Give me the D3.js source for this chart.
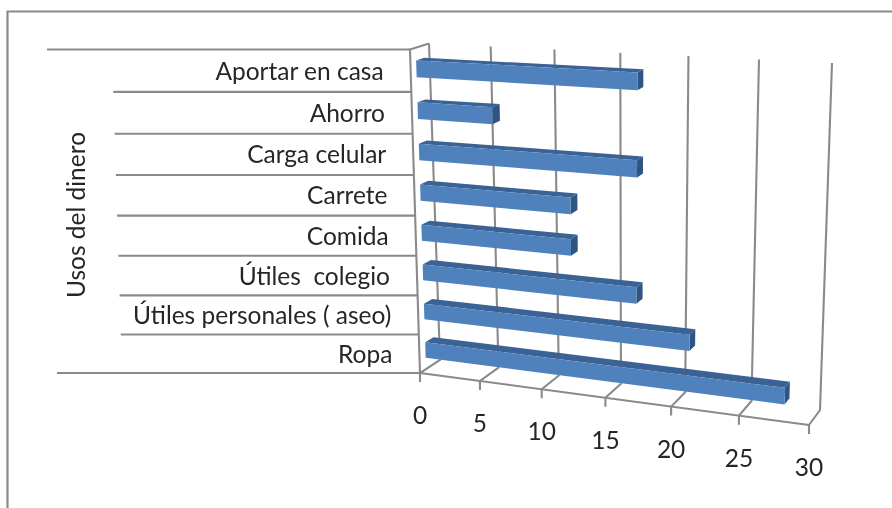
<!DOCTYPE html>
<html>
<head>
<meta charset="utf-8">
<title>Usos del dinero</title>
<script src="https://cdn.jsdelivr.net/npm/d3@7"></script>
<style>
html,body{margin:0;padding:0;background:#fff;overflow:hidden}
svg{display:block;filter:blur(0.4px)}
text{font-family:Lato,"Open Sans",sans-serif;fill:#262626}
</style>
</head>
<body>
<svg id="chart" width="892" height="508"></svg>
<script>
// Data, listed top to bottom as in the chart
const categories = ["Aportar en casa","Ahorro","Carga celular","Carrete","Comida","Útiles  colegio","Útiles personales ( aseo)","Ropa"];
const values = [17,6,17,12,12,17,21,28];
const valueTicks = [0,5,10,15,20,25,30];
const axisTitle = "Usos del dinero";

// Perspective planes of the chart box (corners: u0v0, u1v0, u1v1, u0v1)
const frontPlane = [[420,373],[809,425],[822,71],[410,49.5]];
const backPlane  = [[440,360],[820,410],[832,63],[429,43.5]];

function homography(q){
  const [[x0,y0],[x1,y1],[x2,y2],[x3,y3]] = q;
  const dx1=x1-x2, dx2=x3-x2, sx=x0-x1+x2-x3;
  const dy1=y1-y2, dy2=y3-y2, sy=y0-y1+y2-y3;
  const den=dx1*dy2-dx2*dy1;
  const g=(sx*dy2-dx2*sy)/den, h=(dx1*sy-sx*dy1)/den;
  const a=x1-x0+g*x1, b=x3-x0+h*x3, d=y1-y0+g*y1, e=y3-y0+h*y3;
  return (u,v)=>{const w=g*u+h*v+1; return [(a*u+b*v+x0)/w,(d*u+e*v+y0)/w];};
}
const front=homography(frontPlane), back=homography(backPlane);
// depth 0 = front plane, depth 1 = back plane
function project(u,v,depth){
  const p=front(u,v), q=back(u,v);
  return [p[0]+(q[0]-p[0])*depth, p[1]+(q[1]-p[1])*depth];
}

const xScale=d3.scaleLinear().domain([0,30]).range([0,1]);
const barPad=0.6;
const yBand=d3.scaleBand().domain(categories).range([1,0]).paddingInner(barPad).paddingOuter(barPad/2);
const yStep=d3.scaleBand().domain(categories).range([1,0]);

const svg=d3.select("#chart");
const gray="#8a8a8a";
const path=pts=>d3.line()(pts);

// Outer chart border (runs off the picture)
svg.append("path").attr("d","M7.5,508V11.5H892").attr("fill","none").attr("stroke",gray).attr("stroke-width",2.2);

const axes=svg.append("g").attr("fill","none").attr("stroke",gray).attr("stroke-width",2.1);

// Back-wall gridlines and floor lines
valueTicks.forEach(t=>{
  const u=xScale(t);
  const f=project(u,0,0), b=project(u,0,1), top=project(u,1,1);
  axes.append("path").attr("d",path([top,b,f,[f[0],f[1]+9]]));
});
// Floor front edge, left wall edges
axes.append("path").attr("d",path([project(0,0,0),project(1,0,0)]));
axes.append("path").attr("d",path([project(0,0,0),project(0,1,0),project(0,1,1)]));

// Category dividers, screen-horizontal, on the left wall
const edges=[1].concat(categories.map(c=>yStep(c)));
edges.forEach((v,i)=>{
  const p=project(0,v,0);
  const len=(i===0||i===categories.length)?363:298;
  axes.append("line").attr("x1",p[0]-len).attr("x2",p[0]).attr("y1",p[1]).attr("y2",p[1]);
});

// Bars
const d0=0.3,d1=0.72;
const bars=svg.append("g").selectAll("g").data(categories).join("g");
bars.each(function(c,i){
  const g=d3.select(this), u=xScale(values[i]), v0=yBand(c), v1=v0+yBand.bandwidth();
  g.append("path").attr("fill","#3a6294")
    .attr("d",path([project(0,v1,d0),project(0,v1,d1),project(u,v1,d1),project(u,v1,d0)])+"Z");
  g.append("path").attr("fill","#2f5582")
    .attr("d",path([project(u,v0,d0),project(u,v1,d0),project(u,v1,d1),project(u,v0,d1)])+"Z");
  g.append("path").attr("fill","#4f81bd")
    .attr("d",path([project(0,v0,d0),project(u,v0,d0),project(u,v1,d0),project(0,v1,d0)])+"Z");
});

// Category labels
svg.append("g").attr("text-anchor","end").attr("font-size",24.5).selectAll("text").data(categories).join("text")
  .style("white-space","pre")
  .attr("x",c=>project(0,yStep(c)+yStep.bandwidth()/2,0)[0]-27)
  .attr("y",c=>project(0,yStep(c)+yStep.bandwidth()/2,0)[1]+9)
  .text(c=>c);

// Value labels
svg.append("g").attr("text-anchor","middle").attr("font-size",24.5).selectAll("text").data(valueTicks).join("text")
  .attr("x",t=>project(xScale(t),0,0)[0])
  .attr("y",t=>project(xScale(t),0,0)[1]+51)
  .text(t=>t);

// Axis title
svg.append("text").attr("text-anchor","middle").attr("font-size",24.5)
  .attr("transform","translate(85,215) rotate(-90)").text(axisTitle);
</script>
</body>
</html>
